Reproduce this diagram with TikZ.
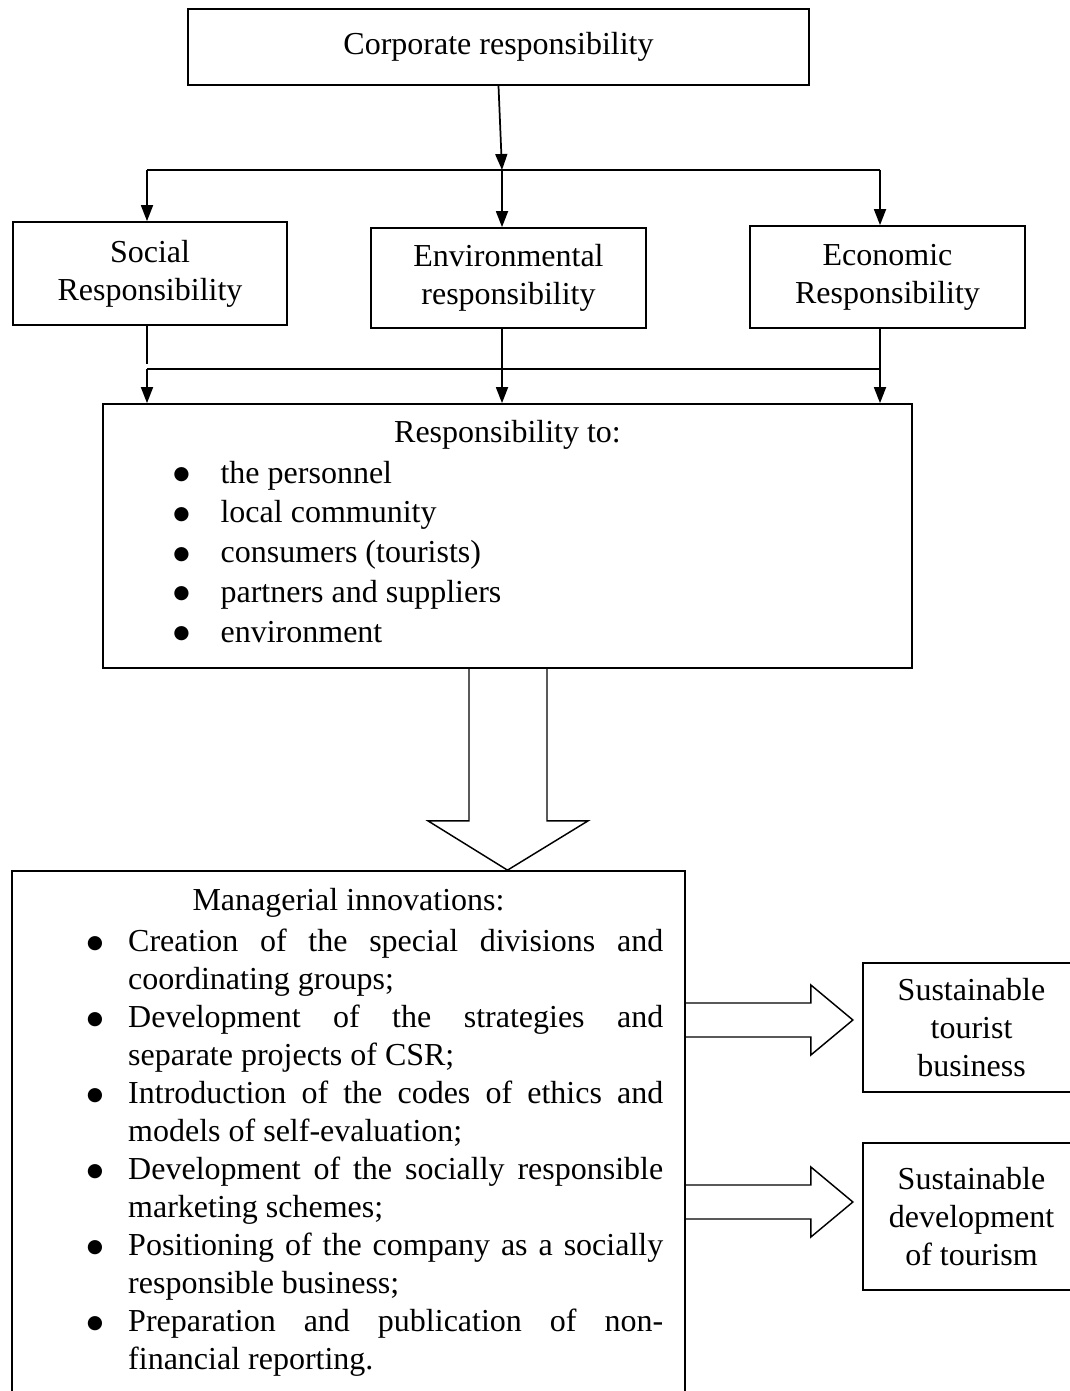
\documentclass[tikz,border=0pt]{standalone}
\usepackage{fontspec}
\setmainfont{Liberation Serif}
\newfontfamily\symfont{DejaVu Sans}
\usetikzlibrary{arrows.meta,calc}

\tikzset{
  every node/.append style={font=\fontsize{24}{28.5}\selectfont},
  box/.style={draw, line width=1.3pt, inner sep=0pt, align=center},
  conn/.style={line width=1.3pt, -{Triangle[length=12pt,width=9pt]}},
  bus/.style={line width=1.3pt},
  hollow/.style={line width=1.1pt, line join=miter},
  listtext/.style={inner sep=0pt, anchor=north west},
}
\newcommand{\bigbullet}{\raisebox{2.6pt}{\symfont\fontsize{14}{14}\selectfont ●}}
\newcommand{\ritem}[1]{\makebox[35.5pt][l]{\strut\bigbullet}#1}
\newcommand{\mitem}[1]{\par\noindent\hangindent=31.1pt\hangafter=1\makebox[31.1pt][l]{\strut\bigbullet}#1}

\begin{document}
\begin{tikzpicture}[x=0.75pt,y=0.75pt,yscale=-1,xscale=1]
    \useasboundingbox (0,0) rectangle (1070,1391);

    % Boxes
    \node[box, minimum width=465.75pt, minimum height=57pt] (corp) at (498.5,47) {Corporate responsibility};
    \node[box, minimum width=205.5pt, minimum height=77.25pt] (social) at (150,273.5) {Social\\Responsibility};
    \node[box, minimum width=206.25pt, minimum height=75pt] (env) at (508.5,278) {Environmental\\responsibility};
    \node[box, minimum width=206.25pt, minimum height=76.5pt] (econ) at (887.5,277) {Economic\\Responsibility};
    \node[box, minimum width=606.75pt, minimum height=198pt] (resp) at (507.5,536) {};
    \node[box, minimum width=504.75pt, minimum height=403.5pt] (mgmt) at (348.5,1140) {};
    \node[box, minimum width=162.75pt, minimum height=96.75pt] (stb) at (971.5,1027.5) {Sustainable\\tourist\\business};
    \node[box, minimum width=162.75pt, minimum height=110.25pt] (sdt) at (971.5,1216.5) {Sustainable\\development\\of tourism};

    % Text in the large boxes
    \node[anchor=base, inner sep=0pt] (resptitle) at ($(resp.north)+(0,39)$) {Responsibility to:};
    \node[listtext, align=left, font=\fontsize{24}{29.8}\selectfont] (resplist) at (173,455)
      {\ritem{the personnel}\\\ritem{local community}\\\ritem{consumers (tourists)}\\\ritem{partners and suppliers}\\\ritem{environment}};
    \node[anchor=base, inner sep=0pt] (mgmttitle) at ($(mgmt.north)+(0,40)$) {Managerial innovations:};
    \node[listtext, text width=432.4pt, align=justify] (mgmtlist) at (86.5,913.4)
      {\tolerance=10000\hbadness=10000\hyphenpenalty=10000
       \mitem{Creation of the special divisions and\linebreak coordinating groups;}
       \mitem{Development of the strategies and\linebreak separate projects of CSR;}
       \mitem{Introduction of the codes of ethics and\linebreak models of self-evaluation;}
       \mitem{Development of the socially responsible\linebreak marketing schemes;}
       \mitem{Positioning of the company as a socially\linebreak responsible business;}
       \mitem{Preparation and publication of non-\linebreak financial reporting.}\par};

    % Bus coordinates
    \coordinate (bl1) at (147,170);
    \coordinate (b1) at (502,170);
    \coordinate (br1) at (880,170);
    \coordinate (bl2) at (147,369);
    \coordinate (b2) at (502,369);
    \coordinate (br2) at (880,369);

    % Corporate to the three responsibilities
    \draw[conn] (corp.south) -- (b1);
    \draw[bus] (bl1) -- (br1);
    \draw[conn] (bl1) -- (bl1 |- social.north);
    \draw[conn] (b1) -- (b1 |- env.north);
    \draw[conn] (br1) -- (br1 |- econ.north);

    % Three responsibilities to responsibility box
    \draw[bus] (bl2 |- social.south) -- ($(bl2)+(0,-5)$);
    \draw[bus] (br2 |- econ.south) -- (br2);
    \draw[bus] (bl2) -- (br2);
    \draw[conn] (b2 |- env.south) -- (b2 |- resp.north);
    \draw[conn] (bl2) -- (bl2 |- resp.north);
    \draw[conn] (br2) -- (br2 |- resp.north);

    % Hollow arrow down
    \draw[hollow] ($(resp.south)+(-38.5,0)$) -- ($(resp.south)+(-38.5,152)$) -- ($(resp.south)+(-79.5,152)$)
      -- (resp.south |- mgmt.north) -- ($(resp.south)+(80.5,152)$) -- ($(resp.south)+(39.5,152)$) -- ($(resp.south)+(39.5,0)$);

    % Hollow arrows to the right
    \coordinate (a1) at ($(mgmt.east)+(0,-120)$);
    \coordinate (a2) at ($(mgmt.east)+(0,62)$);
    \foreach \a in {a1,a2}{
      \draw[hollow] ($(\a)+(0,-17)$) -- ($(\a)+(125,-17)$) -- ($(\a)+(125,-35)$) -- ($(\a)+(167,0)$)
        -- ($(\a)+(125,35)$) -- ($(\a)+(125,17)$) -- ($(\a)+(0,17)$);
    }
\end{tikzpicture}
\end{document}
